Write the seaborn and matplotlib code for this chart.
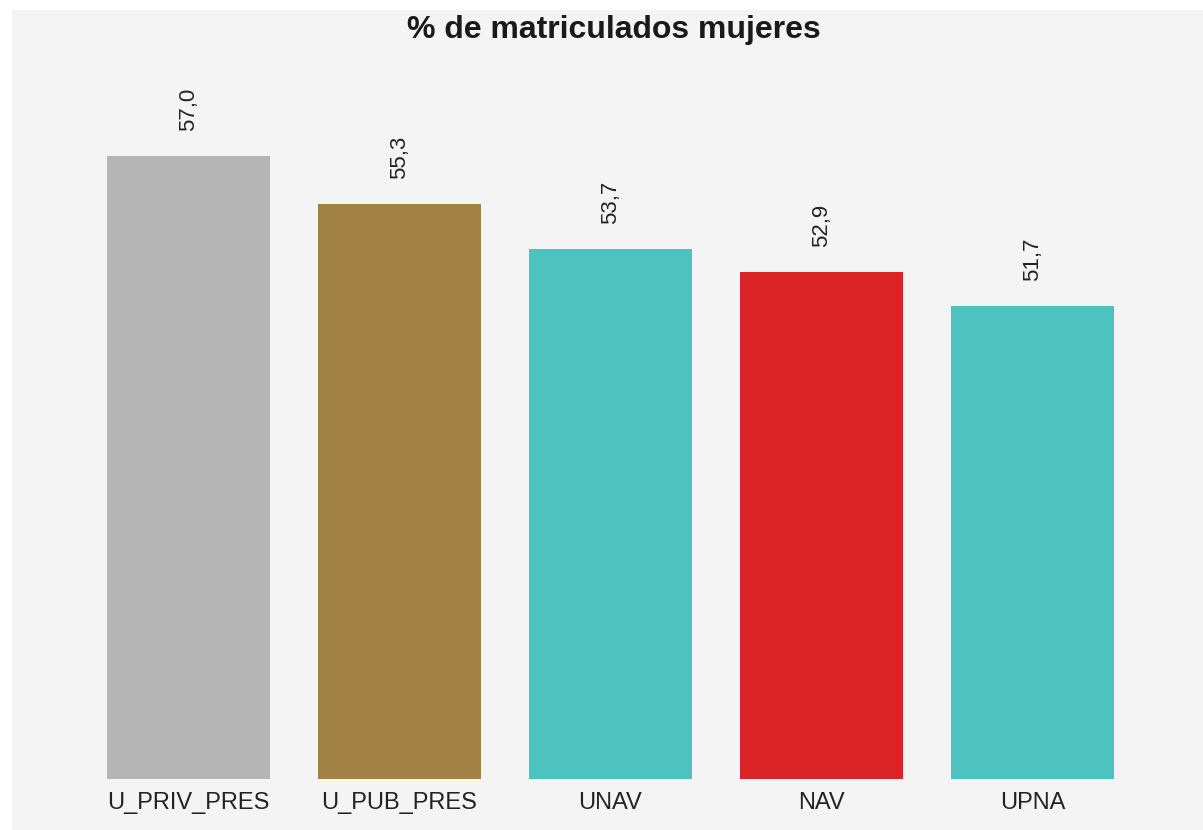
import matplotlib
matplotlib.use("Agg")
import matplotlib.pyplot as plt
from matplotlib.patches import Rectangle
import seaborn as sns
import pandas as pd

categories = ["U_PRIV_PRES", "U_PUB_PRES", "UNAV", "NAV", "UPNA"]
values = [57.0, 55.3, 53.7, 52.9, 51.7]
colors = ["#b5b5b5", "#a28144", "#4ec2be", "#db2224", "#4ec2be"]
title = "% de matriculados mujeres"

sns.set_theme(style="white")
plt.rcParams["font.family"] = ["Liberation Sans", "DejaVu Sans"]

W, H = 1203, 830
fig = plt.figure(figsize=(W / 100, H / 100), dpi=100, facecolor="white")
fig.patches.append(Rectangle((12 / W, 0), (W - 12) / W, (H - 10) / H,
                             transform=fig.transFigure, facecolor="#f4f4f4",
                             edgecolor="none", zorder=-10))

ax = fig.add_axes([83 / W, (H - 778.5) / H, (1138 - 83) / W, (778.5 - 71) / H])
ax.set_facecolor("none")

df = pd.DataFrame({"cat": categories, "val": values})
sns.barplot(data=df, x="cat", y="val", hue="cat", palette=dict(zip(categories, colors)),
            width=0.773, legend=False, ax=ax, saturation=1, linewidth=0, edgecolor="none")

ax.set_xlim(-0.5, 4.5)
ax.set_ylim(35, 60)
for i, v in enumerate(values):
    ax.annotate(f"{v:.1f}".replace(".", ","), xy=(i, v), xytext=(0, 18),
                textcoords="offset points", ha="center", va="bottom",
                rotation=90, fontsize=16, color="#222222")

ax.set_xlabel("")
ax.set_ylabel("")
ax.set_yticks([])
ax.tick_params(axis="x", length=0, pad=9.5, labelsize=17, labelcolor="#222222")
for s in ax.spines.values():
    s.set_visible(False)

fig.text(614 / W, 1 - 30 / H, title, ha="center", va="center", fontsize=23,
         fontweight="bold", color="#1a1a1a")

fig.savefig("out.png", dpi=100, facecolor="white")
